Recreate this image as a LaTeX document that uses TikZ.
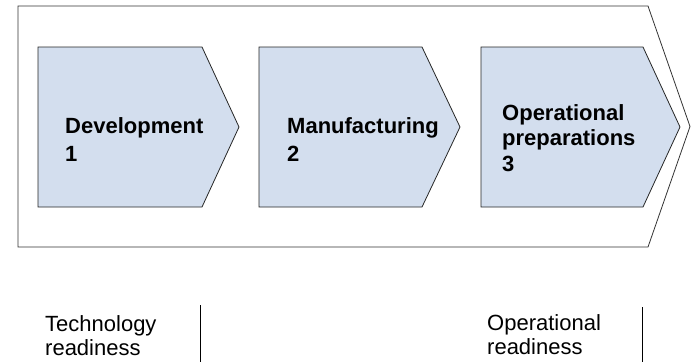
\documentclass[tikz,border=0pt]{standalone}
\usepackage{fontspec}
\setmainfont{Liberation Sans}
\definecolor{phasefill}{RGB}{211,222,238}
\begin{document}
\begin{tikzpicture}[x=1pt,y=-1pt]
    % Define the styles for the chevrons, labels and dividers
    \tikzstyle{frame}=[draw=black!80, line width=0.8pt, line join=miter]
    \tikzstyle{chevron}=[draw=black!85, line width=0.8pt, fill=phasefill, line join=miter]
    \tikzstyle{phase}=[anchor=north west, inner sep=0pt, align=left, font=\bfseries\fontsize{22}{25.5}\selectfont]
    \tikzstyle{milestone}=[anchor=north west, inner sep=0pt, align=left, font=\fontsize{22}{24.5}\selectfont]
    \tikzstyle{divider}=[draw=black, line width=0.8pt]

    \useasboundingbox (0,0) rectangle (691,362);

    % Draw the outer chevron
    \draw[frame] (18,6) -- (648,6) -- (690,126.5) -- (648,247) -- (18,247) -- cycle;

    % Draw the phase chevrons
    \draw[chevron] (38,47) -- (202,47) -- (239,127) -- (202,207) -- (38,207) -- cycle;
    \draw[chevron] (259,47) -- (422,47) -- (460,127) -- (422,207) -- (259,207) -- cycle;
    \draw[chevron] (481,47) -- (643,47) -- (680,127) -- (643,207) -- (481,207) -- cycle;

    % Draw the phase labels
    \node[phase] (development) at (65,117) {Development\\[2.5pt]1};
    \node[phase] (manufacturing) at (287,117) {Manufacturing\\[2.5pt]2};
    \node[phase] (preparations) at (502,104) {Operational\\preparations\\3};

    % Draw the readiness labels
    \node[milestone] (tech_readiness) at (45,315) {Technology\\readiness};
    \node[milestone] (ops_readiness) at (487,314) {Operational\\readiness};

    % Draw the dividers after the readiness labels
    \coordinate (tech_top) at (200,305);
    \coordinate (tech_bottom) at (200,362);
    \coordinate (ops_top) at (642,307);
    \coordinate (ops_bottom) at (642,362);
    \draw[divider] (tech_top) -- (tech_bottom);
    \draw[divider] (ops_top) -- (ops_bottom);
\end{tikzpicture}
\end{document}
